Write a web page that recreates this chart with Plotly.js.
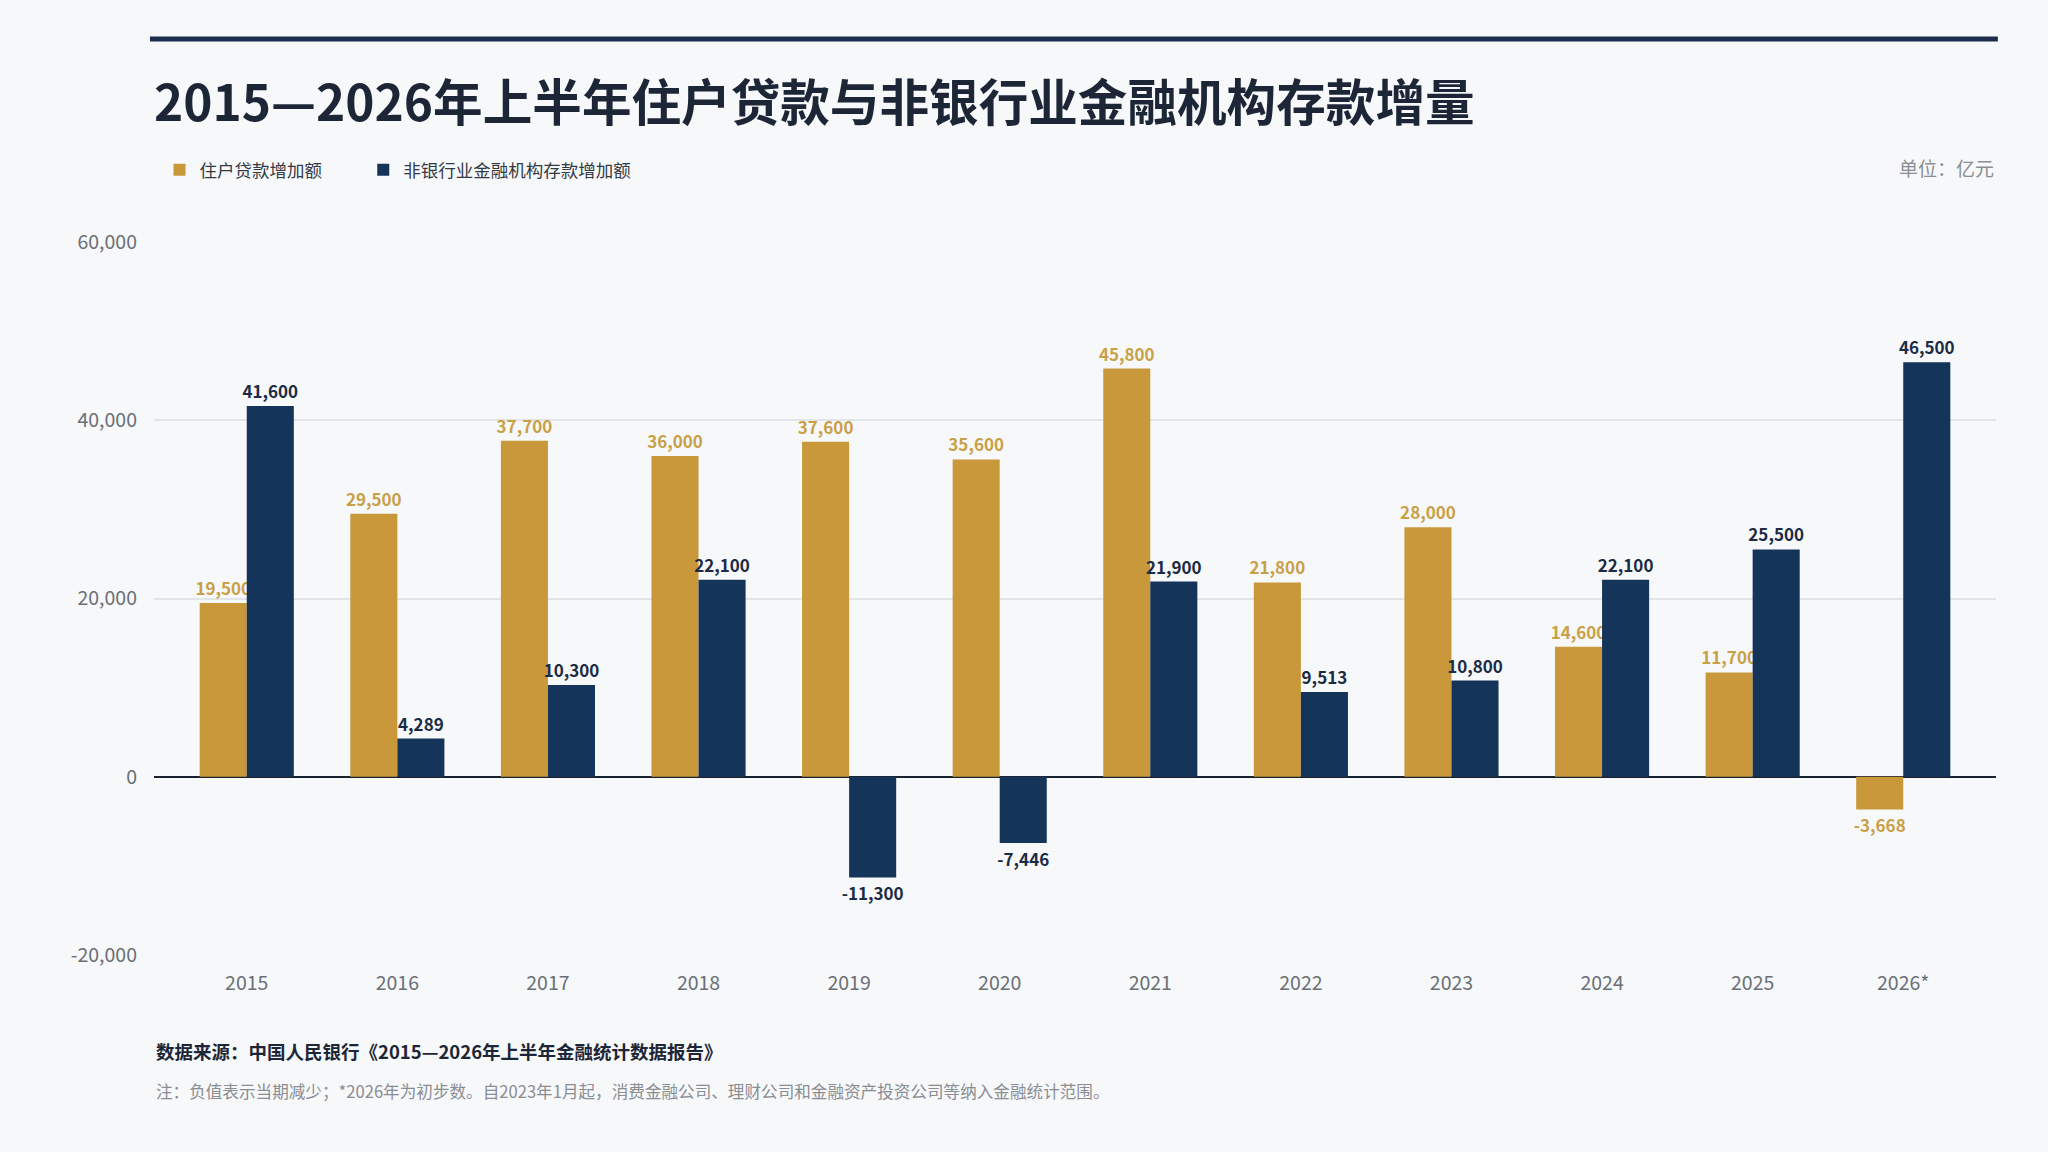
<!DOCTYPE html>
<html>
<head>
<meta charset="utf-8">
<script src="https://cdn.plot.ly/plotly-3.0.1.min.js"></script>
<style>
  html, body { margin: 0; padding: 0; background: #f6f8fa; }
  #chart { width: 2048px; height: 1152px; }
</style>
</head>
<body>
<div id="chart"></div>
<script>
// 年份（2026年为初步数）
const years = ['2015', '2016', '2017', '2018', '2019', '2020',
               '2021', '2022', '2023', '2024', '2025', '2026*'];

// 住户贷款增加额（亿元）
const householdLoans = [19500, 29500, 37700, 36000, 37600, 35600,
                        45800, 21800, 28000, 14600, 11700, -3668];

// 非银行业金融机构存款增加额（亿元）
const nonBankDeposits = [41600, 4289, 10300, 22100, -11300, -7446,
                         21900, 9513, 10800, 22100, 25500, 46500];

// y轴刻度
const yTicks = [-20000, 0, 20000, 40000, 60000];

const COLORS = {
    gold: '#c8983a',
    goldText: '#c9a046',
    navy: '#14345a',
    navyText: '#1b2b44',
    title: '#1c2636',
    grid: '#e1e4e8',
    axisText: '#6b6f76',
    bg: '#f6f8fa'
};

const FONT = "'Noto Sans CJK SC', 'Noto Sans', sans-serif";

function fmt(v) {
    return v.toLocaleString('en-US');
}

// 图例通用样式
function legendStyle(x) {
    return {
        orientation: 'h',
        x: x,
        xanchor: 'left',
        y: 1.101,
        yanchor: 'middle',
        bgcolor: 'rgba(0,0,0,0)',
        font: { family: FONT, size: 17.5, color: '#333a44' },
        itemwidth: 30
    };
}

const traceLoans = {
    x: years,
    y: householdLoans,
    name: '住户贷款增加额',
    type: 'bar',
    legend: 'legend',
    marker: { color: COLORS.gold },
    text: householdLoans.map(fmt),
    textposition: 'outside',
    constraintext: 'none',
    cliponaxis: false,
    outsidetextfont: { family: FONT, size: 17, color: COLORS.goldText, weight: 700 },
    hovertemplate: '%{x}<br>住户贷款增加额: %{y:,}亿元<extra></extra>'
};

const traceDeposits = {
    x: years,
    y: nonBankDeposits,
    name: '非银行业金融机构存款增加额',
    type: 'bar',
    legend: 'legend2',
    marker: { color: COLORS.navy },
    text: nonBankDeposits.map(fmt),
    textposition: 'outside',
    constraintext: 'none',
    cliponaxis: false,
    outsidetextfont: { family: FONT, size: 17, color: COLORS.navyText, weight: 700 },
    hovertemplate: '%{x}<br>非银行业金融机构存款增加额: %{y:,}亿元<extra></extra>'
};

const layout = {
    width: 2048,
    height: 1152,
    paper_bgcolor: COLORS.bg,
    plot_bgcolor: COLORS.bg,
    font: { family: FONT, size: 19, color: COLORS.axisText },
    margin: { t: 242, r: 52, b: 197, l: 154 },
    barmode: 'group',
    bargap: 0.375,
    bargroupgap: 0,
    showlegend: true,
    legend: legendStyle(0.003),
    legend2: legendStyle(0.1136),
    xaxis: {
        type: 'category',
        range: [-0.616, 11.616],
        showgrid: false,
        zeroline: false,
        showline: false,
        ticks: '',
        tickfont: { family: FONT, size: 19.5, color: COLORS.axisText },
        ticklabelstandoff: 14
    },
    yaxis: {
        range: [-20000, 60000],
        tickvals: yTicks,
        ticktext: yTicks.map(fmt),
        showgrid: true,
        gridcolor: COLORS.grid,
        gridwidth: 1.5,
        zeroline: true,
        zerolinecolor: '#1a2230',
        zerolinewidth: 2,
        showline: false,
        ticks: '',
        tickfont: { family: FONT, size: 19.5, color: COLORS.axisText },
        ticklabelstandoff: 16
    },
    shapes: [{
        type: 'line',
        xref: 'paper', yref: 'paper',
        x0: -0.0022, x1: 1.001,
        y0: (955 - 39) / 713, y1: (955 - 39) / 713,
        line: { color: '#1b2d4a', width: 5 }
    }],
    annotations: [
        {
            text: '<b>2015—2026年上半年住户贷款与非银行业金融机构存款增量</b>',
            xref: 'paper', yref: 'paper',
            x: -0.001, y: (955 - 99) / 713,
            xanchor: 'left', yanchor: 'middle',
            showarrow: false,
            font: { family: FONT, size: 49.6, color: COLORS.title }
        },
        {
            text: '单位：亿元',
            xref: 'paper', yref: 'paper',
            x: 1, y: (955 - 168) / 713,
            xanchor: 'right', yanchor: 'middle',
            showarrow: false,
            font: { family: FONT, size: 19, color: '#8a8d92' }
        },
        {
            text: '<b>数据来源：中国人民银行《2015—2026年上半年金融统计数据报告》</b>',
            xref: 'paper', yref: 'paper',
            x: 0, y: (955 - 1051) / 713,
            xanchor: 'left', yanchor: 'middle',
            showarrow: false,
            font: { family: FONT, size: 18.5, color: '#1c2636' }
        },
        {
            text: '注：负值表示当期减少；*2026年为初步数。自2023年1月起，消费金融公司、理财公司和金融资产投资公司等纳入金融统计范围。',
            xref: 'paper', yref: 'paper',
            x: 0, y: (955 - 1091) / 713,
            xanchor: 'left', yanchor: 'middle',
            showarrow: false,
            font: { family: FONT, size: 16.6, color: '#8a8d92' }
        }
    ]
};

Plotly.newPlot('chart', [traceLoans, traceDeposits], layout, { displayModeBar: false, responsive: false });
</script>
</body>
</html>
